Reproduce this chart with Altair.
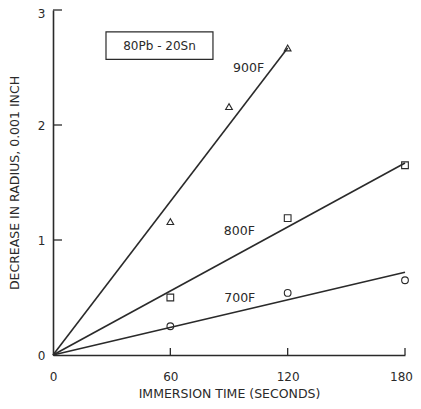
import altair as alt
import pandas as pd

# measured points
series_names = ["700F", "800F", "900F"]
pt_700_x = [60, 120, 180]
pt_700_y = [0.25, 0.54, 0.65]
pt_800_x = [60, 120, 180]
pt_800_y = [0.50, 1.19, 1.65]
pt_900_x = [60, 90, 120]
pt_900_y = [1.16, 2.16, 2.67]

# fitted lines (start, end)
line_700_x = [0, 180]
line_700_y = [0, 0.72]
line_800_x = [0, 180]
line_800_y = [0, 1.67]
line_900_x = [0, 120]
line_900_y = [0, 2.67]

# curve labels
label_text = ["700F", "800F", "900F"]
label_x = [95.5, 95.3, 100]
label_y = [0.50, 1.08, 2.50]

# alloy box
box_text = ["80Pb - 20Sn"]
box_x1 = [27.1]
box_x2 = [81.8]
box_y1 = [2.57]
box_y2 = [2.81]

x_ticks = [0, 60, 120, 180]
y_ticks = [0, 1, 2, 3]

pts = pd.DataFrame(
    {"series": ["700F"] * 3 + ["800F"] * 3 + ["900F"] * 3,
     "x": pt_700_x + pt_800_x + pt_900_x,
     "y": pt_700_y + pt_800_y + pt_900_y}
)
lines = pd.DataFrame(
    {"series": ["700F"] * 2 + ["800F"] * 2 + ["900F"] * 2,
     "x": line_700_x + line_800_x + line_900_x,
     "y": line_700_y + line_800_y + line_900_y}
)
labels = pd.DataFrame({"t": label_text, "x": label_x, "y": label_y})
box = pd.DataFrame({"t": box_text, "x1": box_x1, "x2": box_x2, "y1": box_y1, "y2": box_y2,
                    "xm": [(box_x1[0] + box_x2[0]) / 2], "ym": [(box_y1[0] + box_y2[0]) / 2]})
xt = pd.DataFrame({"x": x_ticks[1:]})
yt = pd.DataFrame({"y": y_ticks[1:]})

FONT = "DejaVu Sans"
INK = "#2a2a2a"

xs = alt.Scale(domain=[0, 180], nice=False, zero=False)
ys = alt.Scale(domain=[0, 3], nice=False, zero=False)

xax = alt.Axis(values=x_ticks, ticks=False, tickSize=0, grid=False, labelPadding=16,
               labelFlush=False,
               labelOffset={"condition": {"test": "datum.value == 180", "value": -4}, "value": 0},
               title="IMMERSION  TIME  (SECONDS)", titlePadding=5, format="d")
yax = alt.Axis(values=y_ticks, ticks=False, tickSize=0, grid=False, labelPadding=8,
               labelFlush=False,
               labelOffset={"condition": {"test": "datum.value == 3", "value": 3}, "value": 0},
               title="DECREASE IN RADIUS, 0.001 INCH", titlePadding=16, format="d")

base_x = alt.X("x:Q", scale=xs, axis=xax)
base_y = alt.Y("y:Q", scale=ys, axis=yax)

line_layer = alt.Chart(lines).mark_line(color=INK, strokeWidth=1.6).encode(
    x=base_x, y=base_y, detail="series:N"
)
pt_layer = alt.Chart(pts).mark_point(filled=False, color=INK, strokeWidth=1.1, size=45, opacity=1).encode(
    x="x:Q", y="y:Q",
    shape=alt.Shape("series:N", scale=alt.Scale(domain=series_names,
                                                 range=["circle", "square", "triangle-up"]), legend=None),
)
lab_layer = alt.Chart(labels).mark_text(font=FONT, fontSize=12.5, color=INK).encode(
    x="x:Q", y="y:Q", text="t:N"
)
box_layer = alt.Chart(box).mark_rect(fill="white", stroke=INK, strokeWidth=1.2).encode(
    x="x1:Q", x2="x2:Q", y="y1:Q", y2="y2:Q"
)
box_text_layer = alt.Chart(box).mark_text(font=FONT, fontSize=12, color=INK).encode(
    x="xm:Q", y="ym:Q", text="t:N"
)
xtick_layer = alt.Chart(xt).mark_rule(color=INK, strokeWidth=1.3).encode(
    x="x:Q", y=alt.value(345), y2=alt.value(338)
)
ytick_layer = alt.Chart(yt).mark_rule(color=INK, strokeWidth=1.3).encode(
    y="y:Q", x=alt.value(0), x2=alt.value(9)
)

chart = alt.layer(
    line_layer, pt_layer, lab_layer, box_layer, box_text_layer, xtick_layer, ytick_layer
).properties(
    width=352, height=345,
    autosize=alt.AutoSizeParams(type="none"),
    padding={"left": 45, "top": 2, "right": 8, "bottom": 46},
).configure_view(stroke=None).configure_axis(
    domainColor=INK, domainWidth=1.6, labelFont=FONT, labelFontSize=12, labelColor=INK,
    titleFont=FONT, titleFontSize=12.5, titleFontWeight="normal", titleColor=INK,
)

chart.save("out.html", embed_options={"renderer": "svg", "actions": False})
